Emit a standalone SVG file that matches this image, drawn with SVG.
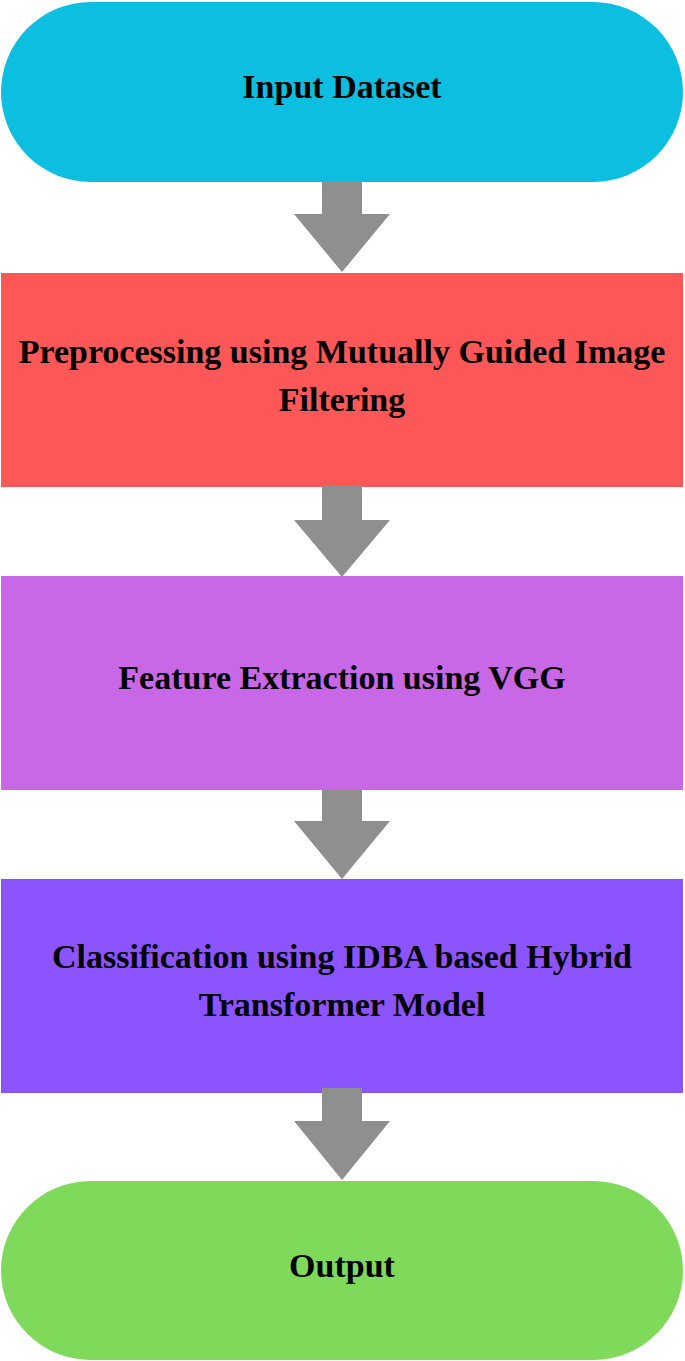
<svg xmlns="http://www.w3.org/2000/svg" width="685" height="1361" viewBox="0 0 685 1361">
<style>
.lbl{font-family:"Liberation Serif","Times New Roman",serif;font-weight:bold;font-size:34px;fill:#000;text-anchor:middle}
.arrow{fill:#8f8f8f}
</style>
<rect x="0" y="0" width="685" height="1361" fill="#ffffff"/>
<g id="node-input">
<rect x="1" y="2" width="682" height="180" rx="90" ry="90" fill="#0cbfe0"/>
<text class="lbl" x="342" y="98">Input Dataset</text>
</g>
<g id="node-preprocessing">
<rect x="1" y="273" width="682" height="214" fill="#fe5757"/>
<text class="lbl" x="342" y="363">Preprocessing using Mutually Guided Image</text>
<text class="lbl" x="342" y="411">Filtering</text>
</g>
<g id="node-feature">
<rect x="1" y="576" width="682" height="214" fill="#c968e6"/>
<text class="lbl" x="342" y="689">Feature Extraction using VGG</text>
</g>
<g id="node-classification">
<rect x="1" y="879" width="682" height="214" fill="#8c54fe"/>
<text class="lbl" x="342" y="968">Classification using IDBA based Hybrid</text>
<text class="lbl" x="342" y="1016">Transformer Model</text>
</g>
<g id="node-output">
<rect x="1" y="1181" width="682" height="179" rx="90" ry="90" fill="#7fd95b"/>
<text class="lbl" x="342" y="1277">Output</text>
</g>
<g id="connectors">
<polygon class="arrow" points="322,181 362,181 362,214 390,214 342,272 294,214 322,214"/>
<polygon class="arrow" points="322,486 362,486 362,520 390,520 342,577 294,520 322,520"/>
<polygon class="arrow" points="322,789 362,789 362,821 390,821 342,879 294,821 322,821"/>
<polygon class="arrow" points="322,1088 362,1088 362,1121 390,1121 342,1180 294,1121 322,1121"/>
</g>
</svg>
